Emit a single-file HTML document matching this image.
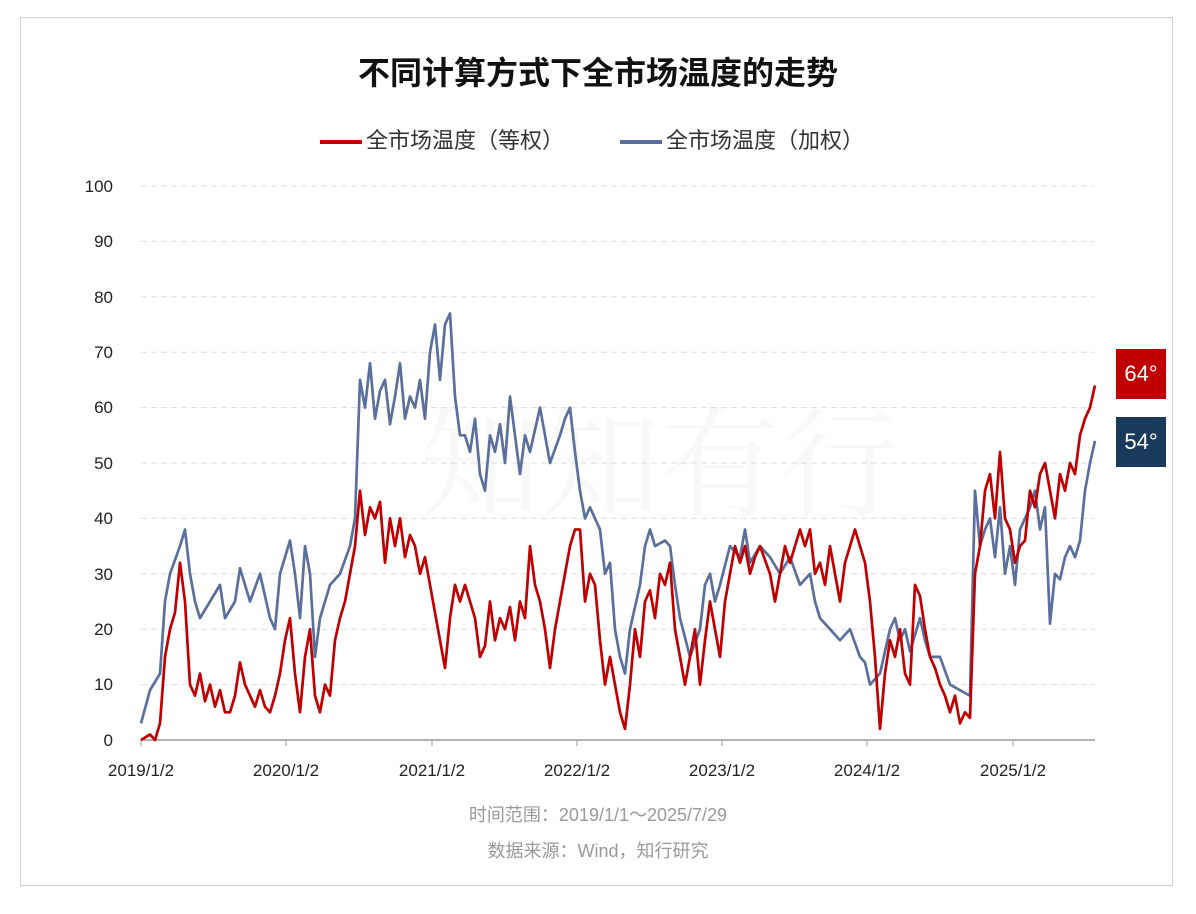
<!DOCTYPE html>
<html><head><meta charset="utf-8"><style>
html,body{margin:0;padding:0;background:#fff;}
body{width:1196px;height:914px;position:relative;font-family:"Liberation Sans","Noto Sans CJK SC",sans-serif;}
.frame{position:absolute;left:20px;top:17px;width:1153px;height:869px;border:1.5px solid #cfcfcf;box-sizing:border-box;}
.t{position:absolute;white-space:nowrap;}
</style></head><body>
<div class="frame"></div>
<div class="t" style="left:0;width:1196px;text-align:center;top:48px;font-size:32px;font-weight:bold;color:#111;">不同计算方式下全市场温度的走势</div>
<div class="t" style="left:320px;top:123px;font-size:22px;color:#333;"><span style="display:inline-block;width:42px;height:4px;background:#c00000;vertical-align:middle;margin-right:4px;"></span>全市场温度（等权）</div>
<div class="t" style="left:620px;top:123px;font-size:22px;color:#333;"><span style="display:inline-block;width:42px;height:4px;background:#5b6f9c;vertical-align:middle;margin-right:4px;"></span>全市场温度（加权）</div>
<div class="t" style="left:420px;top:370px;font-size:120px;color:#000;opacity:0.025;font-family:'Noto Serif CJK SC',serif;">知知有行</div>
<svg width="1196" height="914" style="position:absolute;left:0;top:0">
<g stroke="#dddddd" stroke-dasharray="6,4" stroke-width="1">
<line x1="141" x2="1095" y1="186" y2="186"/><line x1="141" x2="1095" y1="241.4" y2="241.4"/><line x1="141" x2="1095" y1="296.8" y2="296.8"/><line x1="141" x2="1095" y1="352.2" y2="352.2"/><line x1="141" x2="1095" y1="407.6" y2="407.6"/><line x1="141" x2="1095" y1="463" y2="463"/><line x1="141" x2="1095" y1="518.4" y2="518.4"/><line x1="141" x2="1095" y1="573.8" y2="573.8"/><line x1="141" x2="1095" y1="629.2" y2="629.2"/><line x1="141" x2="1095" y1="684.6" y2="684.6"/>
</g>
<line x1="141" x2="1095" y1="740" y2="740" stroke="#999" stroke-width="1.5"/>
<g stroke="#999"><line x1="141" x2="141" y1="740" y2="746"/><line x1="286" x2="286" y1="740" y2="746"/><line x1="432" x2="432" y1="740" y2="746"/><line x1="577" x2="577" y1="740" y2="746"/><line x1="722" x2="722" y1="740" y2="746"/><line x1="867" x2="867" y1="740" y2="746"/><line x1="1013" x2="1013" y1="740" y2="746"/></g>
<g font-size="17" fill="#222" text-anchor="end" font-family="Liberation Sans,sans-serif">
<text x="113" y="192">100</text><text x="113" y="247">90</text><text x="113" y="303">80</text><text x="113" y="358">70</text><text x="113" y="413">60</text><text x="113" y="469">50</text><text x="113" y="524">40</text><text x="113" y="580">30</text><text x="113" y="635">20</text><text x="113" y="690">10</text><text x="113" y="746">0</text>
</g>
<g font-size="17" fill="#222" text-anchor="middle" font-family="Liberation Sans,sans-serif">
<text x="141" y="776">2019/1/2</text><text x="286" y="776">2020/1/2</text><text x="432" y="776">2021/1/2</text><text x="577" y="776">2022/1/2</text><text x="722" y="776">2023/1/2</text><text x="867" y="776">2024/1/2</text><text x="1013" y="776">2025/1/2</text>
</g>
<g transform="translate(0,740) scale(1,-5.54)" fill="none" stroke-linejoin="round">
<polyline vector-effect="non-scaling-stroke" stroke="#5b6f9c" stroke-width="2.7" points="141,3 150,9 160,12 165,25 170,30 180,35 185,38 190,30 195,25 200,22 210,25 220,28 225,22 235,25 240,31 245,28 250,25 260,30 270,22 275,20 280,30 290,36 295,30 300,22 305,35 310,30 315,15 320,22 330,28 340,30 350,35 355,40 360,65 365,60 370,68 375,58 380,63 385,65 390,57 395,62 400,68 405,58 410,62 415,60 420,65 425,58 430,70 435,75 440,65 445,75 450,77 455,62 460,55 465,55 470,52 475,58 480,48 485,45 490,55 495,52 500,57 505,50 510,62 515,55 520,48 525,55 530,52 540,60 545,55 550,50 560,55 565,58 570,60 575,52 580,45 585,40 590,42 595,40 600,38 605,30 610,32 615,20 620,15 625,12 630,20 640,28 645,35 650,38 655,35 665,36 670,35 675,28 680,22 690,15 700,20 705,28 710,30 715,25 720,28 730,35 740,33 745,38 750,32 760,35 770,33 780,30 790,33 800,28 810,30 815,25 820,22 830,20 840,18 850,20 860,15 865,14 870,10 880,12 890,20 895,22 900,18 905,20 910,16 915,19 920,22 925,18 930,15 940,15 950,10 960,9 970,8 975,45 980,35 985,38 990,40 995,33 1000,42 1005,30 1010,35 1015,28 1020,38 1025,40 1030,42 1035,45 1040,38 1045,42 1050,21 1055,30 1060,29 1065,33 1070,35 1075,33 1080,36 1085,45 1090,50 1095,54"/>
<polyline vector-effect="non-scaling-stroke" stroke="#c00000" stroke-width="2.7" points="141,0 150,1 155,0 160,3 165,15 170,20 175,23 180,32 185,25 190,10 195,8 200,12 205,7 210,10 215,6 220,9 225,5 230,5 235,8 240,14 245,10 250,8 255,6 260,9 265,6 270,5 275,8 280,12 285,18 290,22 295,12 300,5 305,15 310,20 315,8 320,5 325,10 330,8 335,18 340,22 345,25 350,30 355,35 360,45 365,37 370,42 375,40 380,43 385,32 390,40 395,35 400,40 405,33 410,37 415,35 420,30 425,33 430,28 435,23 440,18 445,13 450,22 455,28 460,25 465,28 470,25 475,22 480,15 485,17 490,25 495,18 500,22 505,20 510,24 515,18 520,25 525,22 530,35 535,28 540,25 545,20 550,13 555,20 560,25 565,30 570,35 575,38 580,38 585,25 590,30 595,28 600,18 605,10 610,15 615,10 620,5 625,2 630,10 635,20 640,15 645,25 650,27 655,22 660,30 665,28 670,32 675,20 680,15 685,10 690,15 695,20 700,10 705,18 710,25 715,20 720,15 725,25 730,30 735,35 740,32 745,35 750,30 755,33 760,35 770,30 775,25 780,30 785,35 790,32 800,38 805,35 810,38 815,30 820,32 825,28 830,35 840,25 845,32 850,35 855,38 860,35 865,32 870,25 875,15 880,2 885,12 890,18 895,15 900,20 905,12 910,10 915,28 920,26 925,20 930,15 935,13 940,10 945,8 950,5 955,8 960,3 965,5 970,4 975,30 980,35 985,45 990,48 995,40 1000,52 1005,40 1010,38 1015,32 1020,35 1025,36 1030,45 1035,42 1040,48 1045,50 1050,45 1055,40 1060,48 1065,45 1070,50 1075,48 1080,55 1085,58 1090,60 1095,64"/>
</g>
</svg>
<div class="t" style="left:1116px;top:349px;width:50px;height:50px;background:#c00000;color:#fff;font-size:22px;line-height:50px;text-align:center;">64°</div>
<div class="t" style="left:1116px;top:417px;width:50px;height:50px;background:#1a3a5c;color:#fff;font-size:22px;line-height:50px;text-align:center;">54°</div>
<div class="t" style="left:0;width:1196px;text-align:center;top:801px;font-size:18px;color:#999;">时间范围：2019/1/1～2025/7/29</div>
<div class="t" style="left:0;width:1196px;text-align:center;top:837px;font-size:18px;color:#999;">数据来源：Wind，知行研究</div>
</body></html>
